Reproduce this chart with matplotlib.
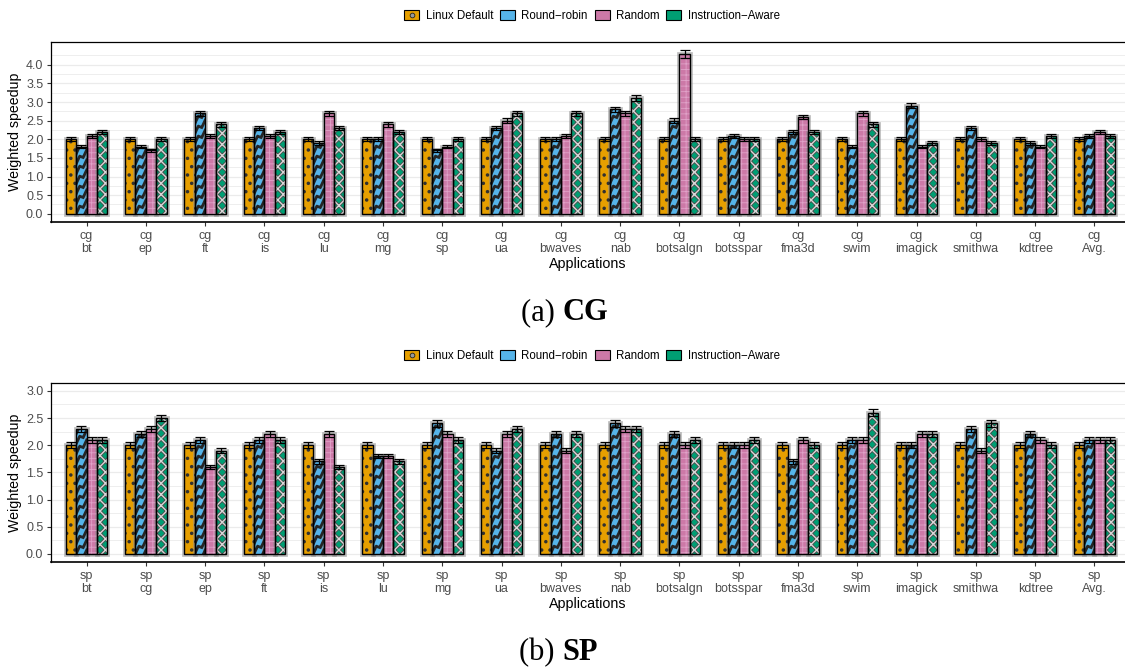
import numpy as np
import matplotlib
matplotlib.use("Agg")
import matplotlib.pyplot as plt
from matplotlib.patches import Patch
from matplotlib.lines import Line2D
from matplotlib.legend_handler import HandlerTuple
from matplotlib.transforms import Bbox, TransformedBbox
import matplotlib.patheffects as pe

plt.rcParams['font.family'] = ['Liberation Sans', 'DejaVu Sans']

series = ['Linux Default', 'Round\u2212robin', 'Random', 'Instruction\u2212Aware']
colors = ['#E69F00', '#56B4E9', '#CC79A7', '#009E73']

# CG co-runs
cg_apps = ['bt', 'ep', 'ft', 'is', 'lu', 'mg', 'sp', 'ua', 'bwaves', 'nab',
           'botsalgn', 'botsspar', 'fma3d', 'swim', 'imagick', 'smithwa', 'kdtree', 'Avg.']
cg_linux = [2.0, 2.0, 2.0, 2.0, 2.0, 2.0, 2.0, 2.0, 2.0, 2.0, 2.0, 2.0, 2.0, 2.0, 2.0, 2.0, 2.0, 2.0]
cg_rr = [1.8, 1.8, 2.7, 2.3, 1.9, 2.0, 1.7, 2.3, 2.0, 2.8, 2.5, 2.1, 2.2, 1.8, 2.9, 2.3, 1.9, 2.1]
cg_random = [2.1, 1.7, 2.1, 2.1, 2.7, 2.4, 1.8, 2.5, 2.1, 2.7, 4.3, 2.0, 2.6, 2.7, 1.8, 2.0, 1.8, 2.2]
cg_ia = [2.2, 2.0, 2.4, 2.2, 2.3, 2.2, 2.0, 2.7, 2.7, 3.1, 2.0, 2.0, 2.2, 2.4, 1.9, 1.9, 2.1, 2.1]

# SP co-runs
sp_apps = ['bt', 'cg', 'ep', 'ft', 'is', 'lu', 'mg', 'ua', 'bwaves', 'nab',
           'botsalgn', 'botsspar', 'fma3d', 'swim', 'imagick', 'smithwa', 'kdtree', 'Avg.']
sp_linux = [2.0, 2.0, 2.0, 2.0, 2.0, 2.0, 2.0, 2.0, 2.0, 2.0, 2.0, 2.0, 2.0, 2.0, 2.0, 2.0, 2.0, 2.0]
sp_rr = [2.3, 2.2, 2.1, 2.1, 1.7, 1.8, 2.4, 1.9, 2.2, 2.4, 2.2, 2.0, 1.7, 2.1, 2.0, 2.3, 2.2, 2.1]
sp_random = [2.1, 2.3, 1.6, 2.2, 2.2, 1.8, 2.2, 2.2, 1.9, 2.3, 2.0, 2.0, 2.1, 2.1, 2.2, 1.9, 2.1, 2.1]
sp_ia = [2.1, 2.5, 1.9, 2.1, 1.6, 1.7, 2.1, 2.3, 2.2, 2.3, 2.1, 2.1, 2.0, 2.6, 2.2, 2.4, 2.0, 2.1]

rel_err = 0.025  # run-to-run spread, relative to the mean

W_PX, H_PX, DPI = 1125, 669, 100
fig = plt.figure(figsize=(W_PX / DPI, H_PX / DPI), dpi=DPI)

bar_w = 0.175
offsets = (np.arange(4) - 1.5) * bar_w
XMIN, XMAX = -0.6, 17.515


def set_hlw(p, lw):
    if hasattr(p, 'set_hatch_linewidth'):
        p.set_hatch_linewidth(lw)


def zigzag(ax, rect, ppx, ppy):
    # triangle-wave stripes drawn inside one bar, clipped to it
    x0, y0 = rect.get_x(), rect.get_y()
    w, h = rect.get_width(), rect.get_height()
    wpx, hpx = w * ppx, h * ppy
    u = np.linspace(-1, wpx + 1, 60)
    lam, amp, gap = 7.0, 4.5, 10.0
    t = u / lam
    tri = 2 * np.abs(t - np.floor(t + 0.5))
    box = TransformedBbox(Bbox.from_bounds(x0, y0, w, h), ax.transData)
    for k in np.arange(-3, hpx / gap + 3):
        ypx = k * gap + 0.9 * u + amp * tri
        ln = Line2D(x0 + u / ppx, y0 + ypx / ppy, color='#262626', lw=2.0,
                    solid_joinstyle='miter', zorder=3)
        ax.add_line(ln)
        ln.set_clip_path(None)
        ln.set_clip_box(box)


def panel(ax, apps, prefix, data, ylim, yticks):
    x = np.arange(len(apps))
    ax.set_xlim(XMIN, XMAX)
    ax.set_ylim(*ylim)
    bb = ax.get_window_extent(fig.canvas.get_renderer())
    ppx = bb.width / (XMAX - XMIN)
    ppy = bb.height / (ylim[1] - ylim[0])

    for i, vals in enumerate(data):
        vals = np.asarray(vals)
        xs = x + offsets[i]
        bars = ax.bar(xs, vals, bar_w, color=colors[i], edgecolor='none', zorder=2,
                      path_effects=[pe.withStroke(linewidth=3.4, foreground='#8f8f8f', alpha=0.6)])
        if i == 0:
            hb = ax.bar(xs, vals, bar_w, facecolor='none', edgecolor='#303030', lw=0,
                        hatch='..', zorder=3)
            for p in hb:
                set_hlw(p, 1.3)
        elif i == 1:
            for r in bars:
                zigzag(ax, r, ppx, ppy)
        elif i == 2:
            hb = ax.bar(xs, vals, bar_w, facecolor='none', edgecolor='#e0a2c8', lw=0,
                        hatch='+++', zorder=3)
            for p in hb:
                set_hlw(p, 0.6)
        else:
            hb = ax.bar(xs, vals, bar_w, facecolor='none', edgecolor='#4a4a4a', lw=0,
                        hatch='xxx', zorder=3)
            for p in hb:
                set_hlw(p, 2.2)
            hb2 = ax.bar(xs, vals, bar_w, facecolor='none', edgecolor='#d8d8d8', lw=0,
                         hatch='xxx', zorder=3)
            for p in hb2:
                set_hlw(p, 1.0)
        ax.bar(xs, vals, bar_w, facecolor='none', edgecolor='black', lw=1.0, zorder=4)
        ax.errorbar(xs, vals, yerr=vals * rel_err, fmt='none', ecolor='black',
                    elinewidth=0.9, capsize=3.6, capthick=0.9, zorder=5)

    ax.set_yticks(yticks)
    ax.set_yticklabels(['%.1f' % v for v in yticks])
    minor = np.arange(0.25, ylim[1], 0.5)
    ax.set_yticks(minor, minor=True)
    ax.tick_params(axis='y', which='minor', length=0)
    ax.grid(axis='y', which='major', color='#ebebeb', lw=0.9, zorder=0)
    ax.grid(axis='y', which='minor', color='#ebebeb', lw=0.6, zorder=0)
    ax.grid(axis='x', visible=False)
    ax.set_axisbelow(True)

    ax.set_xticks(x)
    ax.set_xticklabels([prefix + '\n' + a for a in apps], linespacing=1.2)
    ax.tick_params(which='major', length=3, width=0.8, color='#333333',
                   labelcolor='#4d4d4d', labelsize=9, pad=2.5)

    for s in ['left', 'top']:
        ax.spines[s].set_linewidth(0.9)
    ax.spines['bottom'].set_linewidth(1.2)
    ax.spines['right'].set_visible(False)

    ax.set_ylabel('Weighted speedup', fontsize=10.2, labelpad=3)
    ax.set_xlabel('Applications', fontsize=10.3, labelpad=1)


ax1 = fig.add_axes([51 / W_PX, 1 - 222 / H_PX, 1 - 51 / W_PX, (222 - 41.7) / H_PX])
ax2 = fig.add_axes([51 / W_PX, 1 - 562 / H_PX, 1 - 51 / W_PX, (562 - 382.7) / H_PX])

panel(ax1, cg_apps, 'cg', [cg_linux, cg_rr, cg_random, cg_ia], (-0.22, 4.62),
      np.arange(0, 4.01, 0.5))
panel(ax2, sp_apps, 'sp', [sp_linux, sp_rr, sp_random, sp_ia], (-0.15, 3.15),
      np.arange(0, 3.01, 0.5))

# legends above each panel
handles = []
for i, c in enumerate(colors):
    box = Patch(facecolor=c, edgecolor='black', lw=0.8)
    if i == 0:
        dot = Line2D([], [], marker='o', ls='none', markersize=3.4,
                     markerfacecolor='#9a9a9a', markeredgecolor='#222222', markeredgewidth=0.6)
        handles.append((box, dot))
    else:
        handles.append(box)

for ytop in (16 / H_PX, 356 / H_PX):
    fig.legend(handles, series, loc='center', bbox_to_anchor=(592 / W_PX, 1 - ytop),
               ncol=4, frameon=False, fontsize=8.3, handlelength=1.3, handleheight=1.0,
               handletextpad=0.55, columnspacing=0.6,
               handler_map={tuple: HandlerTuple(ndivide=1, pad=0)})

cap_font = ['Liberation Serif', 'DejaVu Serif']
fig.text(0.5, 1 - 313 / H_PX, '(a) ', ha='right', va='center', fontsize=22, family=cap_font)
fig.text(0.5, 1 - 313 / H_PX, 'CG', ha='left', va='center', fontsize=22, family=cap_font,
         weight='bold')
fig.text(0.5, 1 - 653 / H_PX, '(b) ', ha='right', va='center', fontsize=22, family=cap_font)
fig.text(0.5, 1 - 653 / H_PX, 'SP', ha='left', va='center', fontsize=22, family=cap_font,
         weight='bold')

fig.savefig('out.png', dpi=DPI)
